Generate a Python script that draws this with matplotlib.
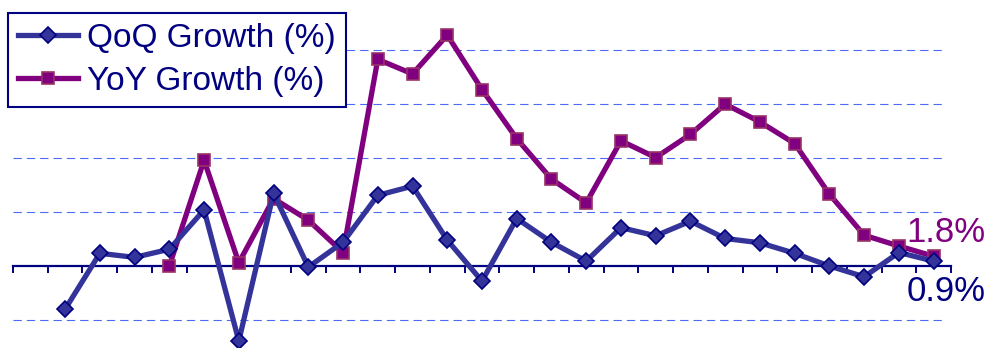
import matplotlib
matplotlib.use("Agg")
import matplotlib.pyplot as plt
import numpy as np

# quarterly growth rates, %
qoq = [-8.0, 2.35, 1.6, 3.1, 10.4, -13.9, 13.5, -0.2, 4.4, 13.1, 14.8, 4.8, -2.8,
       8.8, 4.4, 0.9, 7.1, 5.6, 8.3, 5.1, 4.3, 2.35, 0.0, -2.0, 2.5, 0.9]
yoy = [0.0, 19.6, 0.6, 12.5, 8.5, 2.5, 38.3, 35.6, 42.8, 32.7, 23.6, 16.1, 11.7,
       23.2, 20.1, 24.4, 30.0, 26.7, 22.7, 13.3, 5.7, 3.7, 1.8]
n_periods = 27
grid_levels = [-10, 10, 20, 30, 40]

navy = "#000080"
blue = "#333399"
purple = "#800080"

plt.rcParams["font.family"] = ["Liberation Sans", "DejaVu Sans"]
narrow = ["Liberation Sans Narrow", "Liberation Sans", "DejaVu Sans"]

fig = plt.figure(figsize=(9.91, 3.48), dpi=100)
ax = fig.add_axes([13 / 991, 0, (951 - 13) / 991, 1])

x_qoq = np.arange(n_periods - len(qoq) + 1, n_periods + 1)
x_yoy = np.arange(n_periods - len(yoy) + 1, n_periods + 1)

for g in grid_levels:
    ax.axhline(g, xmin=0, xmax=0.991, color="#4a6cf7", lw=0.8,
               dashes=(7.5, 4.5), zorder=1)

ax.plot(x_qoq, qoq, color=blue, lw=3.8, marker="D", ms=8,
        mfc=blue, mec=navy, mew=1.2, label="QoQ Growth (%)", zorder=4)
ax.plot(x_yoy, yoy, color=purple, lw=3.8, marker="s", ms=8.5,
        mfc=purple, mec="#993366", mew=1.2, label="YoY Growth (%)", zorder=3)

ax.set_xlim(0.5, n_periods + 0.5)
ax.set_ylim(-15.2, 49.3)

for s in ["top", "right", "left"]:
    ax.spines[s].set_visible(False)
ax.spines["bottom"].set_position(("data", 0))
ax.spines["bottom"].set_color(navy)
ax.spines["bottom"].set_linewidth(1.6)
ax.spines["bottom"].set_zorder(2)
ax.set_xticks(np.arange(0.5, n_periods + 1, 1))
ax.set_xticklabels([])
ax.tick_params(axis="x", direction="out", length=5, width=1.4, color=navy)
ax.set_yticks([])

# end-of-series value labels
ax.annotate(f"{yoy[-1]:.1f}%", xy=(x_yoy[-1], yoy[-1]), xytext=(52, 24),
            textcoords="offset pixels", ha="right", va="center",
            fontsize=25, family=narrow, color=purple, annotation_clip=False)
ax.annotate(f"{qoq[-1]:.1f}%", xy=(x_qoq[-1], qoq[-1]), xytext=(52, -30),
            textcoords="offset pixels", ha="right", va="center",
            fontsize=25, family=narrow, color=navy, annotation_clip=False)

leg = fig.legend(loc="upper left", bbox_to_anchor=(8 / 991, 1 - 13 / 348),
                 borderaxespad=0, fontsize=24, frameon=True, fancybox=False,
                 framealpha=1, edgecolor=navy, handlelength=1.8,
                 handletextpad=0.28, borderpad=0.3, labelspacing=0.35)
leg.get_frame().set_linewidth(1.5)
for t in leg.get_texts():
    t.set_color(navy)

fig.savefig("out.png", dpi=100)
